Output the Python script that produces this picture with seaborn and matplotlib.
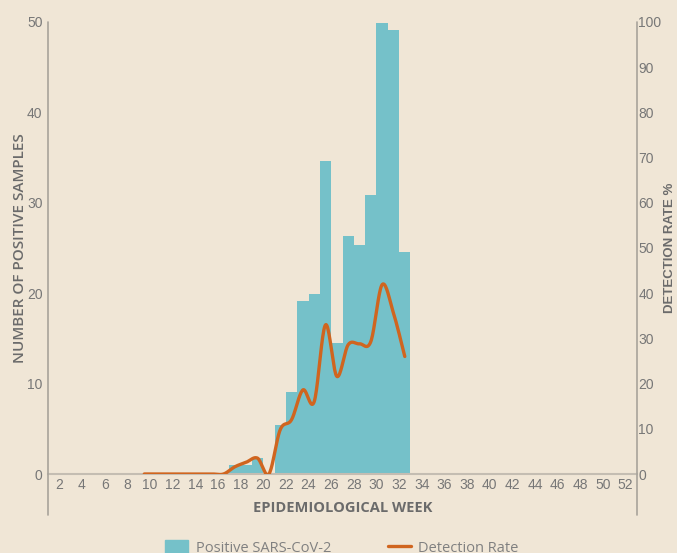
import numpy as np
import pandas as pd
import matplotlib.pyplot as plt
import matplotlib.patches as mpatches
import matplotlib.lines as mlines
import seaborn as sns

sns.set_theme(style="white")
plt.rcParams['font.family'] = ['Liberation Sans Narrow', 'Liberation Sans', 'DejaVu Sans']

# data
bar_weeks = [17, 18, 19, 20, 21, 22, 23, 24, 25, 26, 27, 28, 29, 30, 31, 32]
positives = [1, 1, 1.8, 0, 5.4, 9.1, 19.1, 19.9, 34.6, 14.5, 26.3, 25.3, 30.9, 49.9, 49.1, 24.6]
rate_weeks = [9, 10, 11, 12, 13, 14, 15, 16, 17, 18, 19, 20, 21, 22, 23, 24, 25, 26, 27, 28, 29, 30, 31, 32]
rate = [0, 0, 0, 0, 0, 0, 0, 0, 1.6, 2.6, 3.5, 0, 9.8, 12.0, 18.6, 16.0, 33.0, 21.6, 28.6, 28.8, 29.3, 41.9, 35.6, 26.0]
week_labels = list(range(2, 53, 2))

BG = '#f0e6d6'
TEAL = '#75c1c9'
ORANGE = '#d0651f'
GREY = '#6b6b6b'


def smooth(xs, ys, n=20):
    # catmull-rom curve through the points, like a smoothed excel line
    xs = np.asarray(xs, float)
    ys = np.asarray(ys, float)
    px = np.r_[xs[0], xs, xs[-1]]
    py = np.r_[ys[0], ys, ys[-1]]
    ox, oy = [], []
    t = np.linspace(0, 1, n, endpoint=False)
    for i in range(1, len(px) - 2):
        for p, out in ((px, ox), (py, oy)):
            p0, p1, p2, p3 = p[i - 1], p[i], p[i + 1], p[i + 2]
            out.extend(0.5 * (2 * p1 + (-p0 + p2) * t
                              + (2 * p0 - 5 * p1 + 4 * p2 - p3) * t ** 2
                              + (-p0 + 3 * p1 - 3 * p2 + p3) * t ** 3))
    ox.append(xs[-1])
    oy.append(ys[-1])
    return np.array(ox), np.array(oy)


df = pd.DataFrame({'week': bar_weeks, 'positives': positives})

fig = plt.figure(figsize=(6.77, 5.53), dpi=100, facecolor=BG)
ax = fig.add_axes([48 / 677, 1 - 474 / 553, 589 / 677, 452 / 553])
ax.set_facecolor(BG)

sns.barplot(data=df, x='week', y='positives', native_scale=True, width=1,
            color=TEAL, saturation=1, linewidth=0, ax=ax)
ax.set_xlim(0.5, 52.5)
ax.set_ylim(0, 50)
ax.set_yticks(range(0, 51, 10))
ax.set_xticks([w - 0.5 for w in week_labels])
ax.set_xticklabels(week_labels)
ax.set_xticks([w + 0.5 for w in week_labels[:-1]], minor=True)
ax.tick_params(axis='x', which='major', length=0, pad=3, labelsize=10, labelcolor='#777777')
ax.tick_params(axis='x', which='minor', length=14, width=1.2, color='#cbc3b6', direction='out')
ax.tick_params(axis='y', length=0, pad=4, labelsize=10, labelcolor='#777777')
ax.set_xlabel('EPIDEMIOLOGICAL WEEK', fontsize=10.5, fontweight='bold', color=GREY,
              family=['Open Sans', 'DejaVu Sans'], labelpad=2)
ax.set_ylabel('NUMBER OF POSITIVE SAMPLES', fontsize=11, color=GREY,
              family=['Open Sans', 'DejaVu Sans'], fontweight='semibold', labelpad=0)
for s in ['top', 'right']:
    ax.spines[s].set_visible(False)
ax.spines['bottom'].set_color('#c4bdb2')
ax.spines['bottom'].set_linewidth(1.5)
ax.spines['left'].set_visible(False)
for xpos in (0, 1):
    ax.plot([xpos, xpos], [-0.09, 1], transform=ax.transAxes, color='#a8a39b',
            lw=1.2, clip_on=False, zorder=5)

ax2 = ax.twinx()
sx, sy = smooth(rate_weeks, rate)
sns.lineplot(x=sx, y=sy, sort=False, color=ORANGE, linewidth=2.4, ax=ax2)
ax2.set_ylim(0, 100)
ax2.set_yticks(range(0, 101, 10))
ax2.tick_params(axis='y', length=0, pad=1, labelsize=10, labelcolor='#777777')
ax2.set_ylabel('DETECTION RATE %', fontsize=9.5, color=GREY,
               family=['Liberation Sans', 'DejaVu Sans'], fontweight='bold', labelpad=2)
for s in ax2.spines.values():
    s.set_visible(False)

handles = [mpatches.Patch(color=TEAL, label='Positive SARS-CoV-2'),
           mlines.Line2D([], [], color=ORANGE, lw=2.4, label='Detection Rate')]
leg = fig.legend(handles=handles, loc='center', bbox_to_anchor=(0.505, 0.009), ncol=2,
                 frameon=False, handlelength=1.6, handleheight=0.9, handletextpad=0.5,
                 columnspacing=3.9,
                 prop={'family': ['Open Sans', 'DejaVu Sans'], 'size': 10.5})
for t in leg.get_texts():
    t.set_color('#808080')

fig.savefig('out.png', dpi=100, facecolor=BG)
